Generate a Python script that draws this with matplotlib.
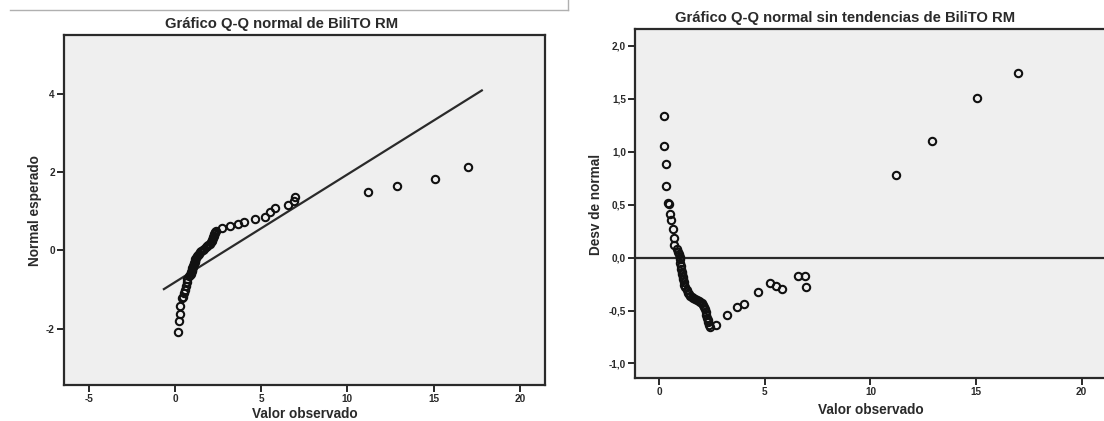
import numpy as np
import matplotlib
matplotlib.use("Agg")
import matplotlib.pyplot as plt
from matplotlib.lines import Line2D
from matplotlib.ticker import FixedLocator, FixedFormatter

# Observed BiliTO RM values (sorted) and their deviation from normal
observed = [
    0.20, 0.23, 0.30, 0.30, 0.42, 0.45, 0.52, 0.56, 0.64, 0.67,
    0.70, 0.81, 0.88, 0.92, 0.95, 0.97, 0.99, 1.00, 1.02, 1.05,
    1.08, 1.10, 1.13, 1.16, 1.18, 1.22, 1.29, 1.33, 1.38, 1.46,
    1.53, 1.60, 1.68, 1.77, 1.86, 1.94, 2.01, 2.08, 2.12, 2.16,
    2.19, 2.22, 2.25, 2.28, 2.31, 2.34, 2.38, 2.70, 3.20, 3.68,
    4.00, 4.65, 5.22, 5.52, 5.80, 6.55, 6.92, 6.94, 11.19, 12.90,
    15.06, 17.00,
]
deviation = [
    1.335, 1.050, 0.886, 0.678, 0.515, 0.505, 0.414, 0.354, 0.272, 0.184,
    0.118, 0.077, 0.055, 0.035, 0.010, -0.017, -0.049, -0.080, -0.105, -0.134,
    -0.155, -0.180, -0.205, -0.230, -0.263, -0.280, -0.310, -0.330, -0.348, -0.362,
    -0.376, -0.385, -0.395, -0.403, -0.411, -0.418, -0.427, -0.445, -0.467, -0.490,
    -0.515, -0.540, -0.568, -0.590, -0.612, -0.635, -0.656, -0.632, -0.545, -0.468,
    -0.440, -0.322, -0.238, -0.267, -0.292, -0.171, -0.178, -0.273, 0.784, 1.102,
    1.505, 1.740,
]

# Normal reference line parameters (mean and standard deviation of the sample)
sample_mean = 2.95
sample_sd = 3.64
reference_x = [-0.70, 17.85]

obs = np.array(observed)
dev = np.array(deviation)
expected = (obs - sample_mean) / sample_sd - dev
ref_x = np.array(reference_x)
ref_y = (ref_x - sample_mean) / sample_sd

left_xticks = [-5, 0, 5, 10, 15, 20]
left_yticks = [-2, 0, 2, 4]
right_xticks = [0, 5, 10, 15, 20]
right_yticks = [-1.0, -0.5, 0.0, 0.5, 1.0, 1.5, 2.0]
right_yticklabels = ["-1,0", "-0,5", "0,0", "0,5", "1,0", "1,5", "2,0"]

plt.rcParams["font.family"] = ["Liberation Sans", "DejaVu Sans"]
plt.rcParams["font.weight"] = "bold"

W, H = 1104, 421
fig = plt.figure(figsize=(W / 100, H / 100), dpi=100)
fig.patch.set_facecolor("white")

ink = "#2a2a2a"
panel_bg = "#efefef"


def px_axes(x0, y0, x1, y1):
    return fig.add_axes([x0 / W, 1 - y1 / H, (x1 - x0) / W, (y1 - y0) / H])


def px_text(x, y, s, size, rotation=0):
    fig.text(x / W, 1 - y / H, s, ha="center", va="center", fontsize=size,
             fontweight="bold", color=ink, rotation=rotation)


def style(ax):
    ax.set_facecolor(panel_bg)
    for s in ax.spines.values():
        s.set_color(ink)
        s.set_linewidth(1.6)
    ax.tick_params(direction="out", length=5, width=1.4, color=ink,
                   labelsize=7.2, labelcolor=ink, pad=1.5)
    for lab in ax.get_xticklabels() + ax.get_yticklabels():
        lab.set_fontweight("bold")


marker_kw = dict(marker="o", ms=5.3, mfc="none", mec="#111111", mew=1.5, ls="none")

# Left panel: normal Q-Q plot
ax1 = px_axes(64, 34.7, 545, 384.5)
ax1.set_xlim(-6.44, 21.46)
ax1.set_ylim(-3.42, 5.50)
ax1.plot(ref_x, ref_y, color=ink, lw=1.6, solid_capstyle="butt")
ax1.plot(obs, expected, **marker_kw)
ax1.xaxis.set_major_locator(FixedLocator(left_xticks))
ax1.yaxis.set_major_locator(FixedLocator(left_yticks))
ax1.set_xticklabels([str(t) for t in left_xticks])
ax1.set_yticklabels([str(t) for t in left_yticks])
style(ax1)
px_text(282, 24, "Gráfico Q-Q normal de BiliTO RM", 10.7)
px_text(305, 414, "Valor observado", 9.8)
px_text(35, 211, "Normal esperado", 9.8, rotation=90)

# Right panel: detrended normal Q-Q plot
ax2 = px_axes(635, 29, 1121.6, 378.3)
ax2.set_xlim(-1.16, 21.9)
ax2.set_ylim(-1.14, 2.16)
ax2.axhline(0, color=ink, lw=1.6)
ax2.plot(obs, dev, **marker_kw)
ax2.xaxis.set_major_locator(FixedLocator(right_xticks))
ax2.yaxis.set_major_locator(FixedLocator(right_yticks))
ax2.set_xticklabels([str(t) for t in right_xticks])
ax2.yaxis.set_major_formatter(FixedFormatter(right_yticklabels))
style(ax2)
px_text(845, 18, "Gráfico Q-Q normal sin tendencias de BiliTO RM", 10.7)
px_text(871, 410, "Valor observado", 9.8)
px_text(596, 204, "Desv de normal", 9.8, rotation=90)

# Thin page frame corner at the top of the left panel
fig.add_artist(Line2D([10 / W, 568 / W], [1 - 10 / H, 1 - 10 / H],
                      transform=fig.transFigure, color="#b0b0b0", lw=1))
fig.add_artist(Line2D([568 / W, 568 / W], [1 - 10 / H, 1.0],
                      transform=fig.transFigure, color="#b0b0b0", lw=1))

fig.savefig("out.png", dpi=100, facecolor="white")
